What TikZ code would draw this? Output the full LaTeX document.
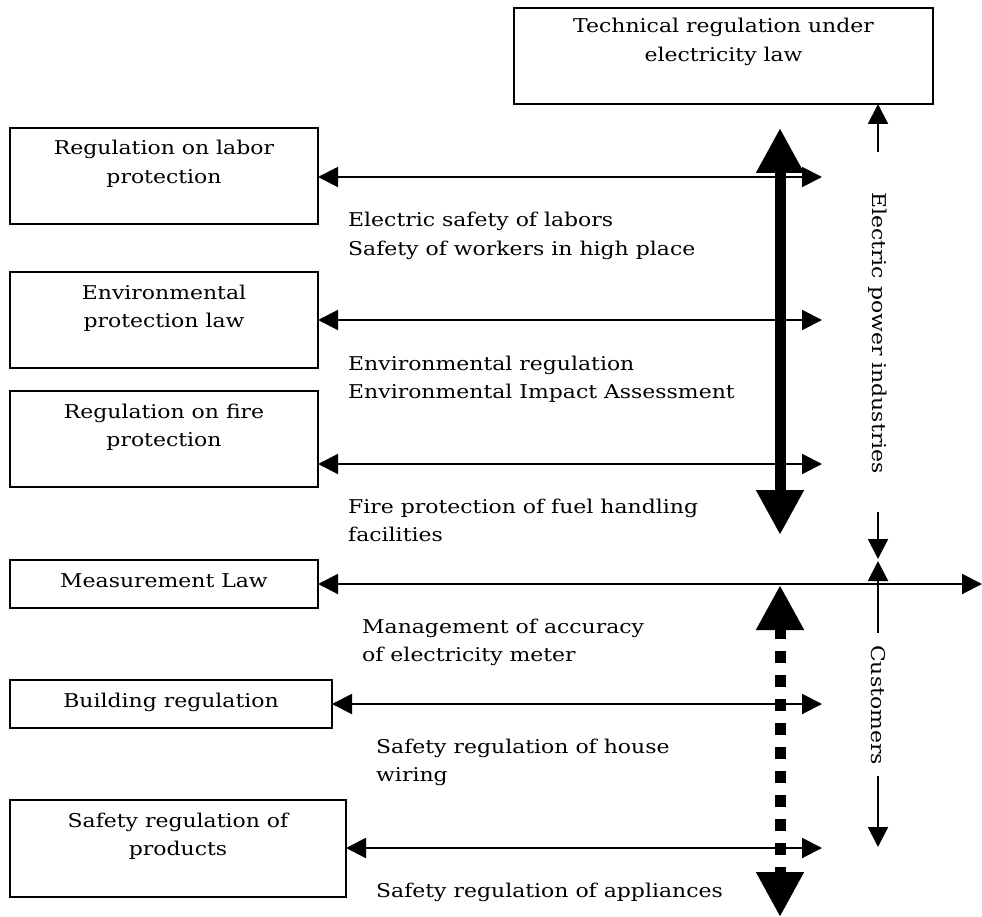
\documentclass[tikz,border=0pt]{standalone}
\usepackage{fontspec}
\setmainfont{DejaVu Serif}[FakeStretch=1.155]
\usetikzlibrary{arrows.meta}
\begin{document}
\begin{tikzpicture}[x=1pt,y=-1pt,
  font=\fontsize{19pt}{28.5pt}\selectfont,
  lawbox/.style={draw, line width=2pt, anchor=north west, inner sep=0pt, outer sep=0pt},
  boxtext/.style={anchor=base, align=center, inner sep=0pt},
  note/.style={anchor=base west, align=left, inner sep=0pt},
  sidelabel/.style={rotate=-90, anchor=center, inner sep=0pt},
  smalltip/.tip={Triangle[width=20pt,length=20pt]},
  bigtip/.tip={Triangle[width=45pt,length=45pt]},
  link/.style={line width=2pt, smalltip-smalltip},
  oneway/.style={line width=2pt, -smalltip},
  mainflow/.style={line width=11pt, bigtip-bigtip},
]
% page frame
\path[use as bounding box] (0,0) rectangle (982,917);

% regulation boxes
\node[lawbox, minimum width=419pt, minimum height=96pt] (tech)  at (514,8)   {};
\node[lawbox, minimum width=308pt, minimum height=96pt] (labor) at (10,128)  {};
\node[lawbox, minimum width=308pt, minimum height=96pt] (env)   at (10,272)  {};
\node[lawbox, minimum width=308pt, minimum height=96pt] (fire)  at (10,391)  {};
\node[lawbox, minimum width=308pt, minimum height=48pt] (meas)  at (10,560)  {};
\node[lawbox, minimum width=322pt, minimum height=48pt] (build) at (10,680)  {};
\node[lawbox, minimum width=336pt, minimum height=97pt] (prod)  at (10,800)  {};

% box titles (anchored on the baseline of the last line)
\node[boxtext] (techT)  at (723.5,61.5) {Technical regulation under\\electricity law};
\node[boxtext] (laborT) at (164,183.5)  {Regulation on labor\\protection};
\node[boxtext] (envT)   at (164,327.5)  {Environmental\\protection law};
\node[boxtext] (fireT)  at (164,446.5)  {Regulation on fire\\protection};
\node[boxtext] (measT)  at (164,587)    {Measurement Law};
\node[boxtext] (buildT) at (171,707)    {Building regulation};
\node[boxtext] (prodT)  at (178,855.5)  {Safety regulation of\\products};

% right ends of the two-way links
\coordinate (laborR) at (822,177);
\coordinate (envR)   at (822,320);
\coordinate (fireR)  at (822,464);
\coordinate (measR)  at (982,584);
\coordinate (buildR) at (822,704);
\coordinate (prodR)  at (822,848);

\draw[link] (labor.east |- laborR) -- (laborR);
\draw[link] (env.east |- envR)     -- (envR);
\draw[link] (fire.east |- fireR)   -- (fireR);
\draw[link] (meas.east |- measR)   -- (measR);
\draw[link] (build.east |- buildR) -- (buildR);
\draw[link] (prod.east |- prodR)   -- (prodR);

% notes under the links
\node[note] (laborN) at (348,255.5) {Electric safety of labors\\Safety of workers in high place};
\node[note] (envN)   at (348,398.5) {Environmental regulation\\Environmental Impact Assessment};
\node[note] (fireN)  at (348,541.5) {Fire protection of fuel handling\\facilities};
\node[note] (measN)  at (362,661.5) {Management of accuracy\\of electricity meter};
\node[note] (buildN) at (376,781.5) {Safety regulation of house\\wiring};
\node[note] (prodN)  at (376,897)   {Safety regulation of appliances};

% vertical flows
\coordinate (powerTop) at (780,128);
\coordinate (powerBot) at (780,535);
\coordinate (custTop)  at (780,585);
\coordinate (custBot)  at (780,917);
\draw[mainflow] (powerTop) -- (powerBot);
\draw[mainflow, dash pattern=on 12pt off 12pt] (custTop) -- (custBot);

% side scale
\node[sidelabel] (epi)  at (878,333) {Electric power industries};
\node[sidelabel] (cust) at (878,705) {Customers};
\coordinate (epiA) at (878,152);
\coordinate (epiB) at (878,512);
\coordinate (epiC) at (878,559);
\coordinate (custA) at (878,633);
\coordinate (custB) at (878,561);
\coordinate (custC) at (878,776);
\coordinate (custD) at (878,847);
\draw[oneway] (epiA) -- (epiA |- tech.south);
\draw[oneway] (epiB) -- (epiC);
\draw[oneway] (custA) -- (custB);
\draw[oneway] (custC) -- (custD);
\end{tikzpicture}
\end{document}
